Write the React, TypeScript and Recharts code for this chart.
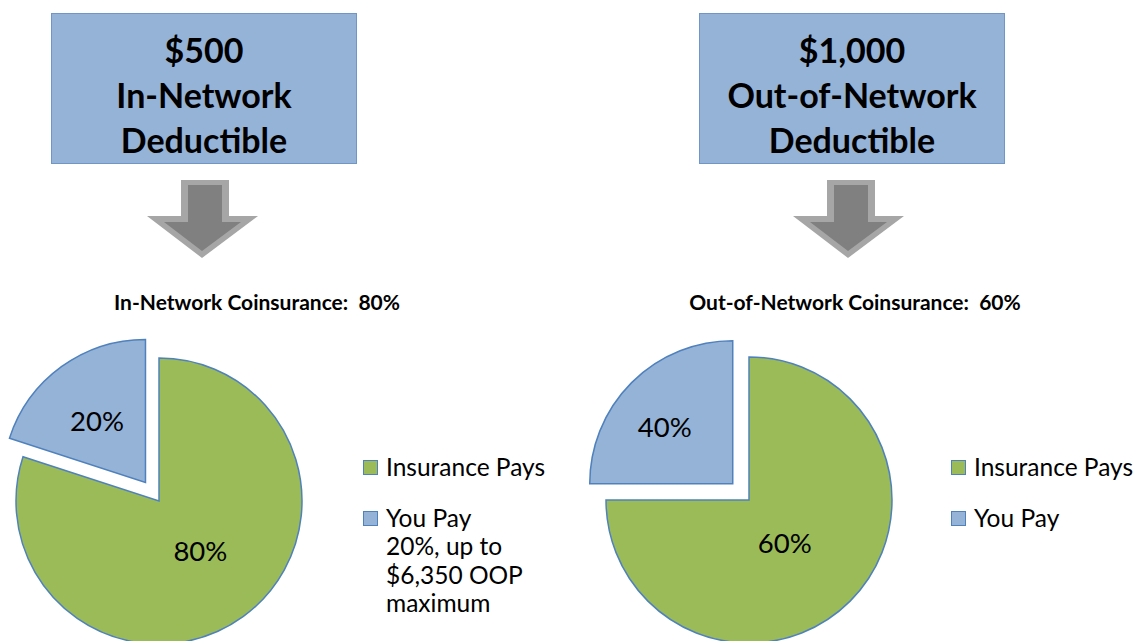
import React from "react";
import { PieChart, Pie, Cell, Legend, Sector } from "recharts";

// ---- data ----
const categoriesIn = ["Insurance Pays", "You Pay\n20%, up to\n$6,350 OOP\nmaximum"];
const valuesIn = [80, 20];
const labelsIn = ["80%", "20%"];
const explodeIn = [false, true];

const categoriesOut = ["Insurance Pays", "You Pay"];
const valuesOut = [75, 25];
const labelsOut = ["60%", "40%"];
const explodeOut = [false, true];

const boxLinesIn = ["$500", "In-Network", "Deductible"];
const boxLinesOut = ["$1,000", "Out-of-Network", "Deductible"];
const chartTitles = ["In-Network Coinsurance:  80%", "Out-of-Network Coinsurance:  60%"];

const sliceColors = ["#9bbb59", "#95b3d7"];
const STROKE = "#4f81bd";
const FONT = "Lato, 'Open Sans', sans-serif";
const RAD = Math.PI / 180;
const EXPLODE = 23;

// label placement (style): radius fraction and angle adjustment per slice
const labelPlaceIn = [{ frac: 0.45, adj: 4 }, { frac: 0.55, adj: 2 }];
const labelPlaceOut = [{ frac: 0.39, adj: -5 }, { frac: 0.62, adj: 5 }];

function buildData(cats: string[], vals: number[], labels: string[], explode: boolean[]) {
  return cats.map((name, i) => ({ name, value: vals[i], label: labels[i], explode: explode[i] }));
}

const dataIn = buildData(categoriesIn, valuesIn, labelsIn, explodeIn);
const dataOut = buildData(categoriesOut, valuesOut, labelsOut, explodeOut);

function shiftFor(props: any) {
  const ex = props.explode ?? props.payload?.explode;
  const off = ex ? EXPLODE : 0;
  return {
    dx: off * Math.cos(-props.midAngle * RAD),
    dy: off * Math.sin(-props.midAngle * RAD),
  };
}

const ExplodedShape = (props: any) => {
  const { dx, dy } = shiftFor(props);
  return <Sector {...props} cx={props.cx + dx} cy={props.cy + dy} />;
};

function makeLabel(place: { frac: number; adj: number }[]) {
  return (props: any) => {
    const { cx, cy, midAngle, outerRadius, index } = props;
    const { dx, dy } = shiftFor(props);
    const p = place[index];
    const a = (midAngle + p.adj) * RAD;
    const r = outerRadius * p.frac;
    const x = cx + dx + r * Math.cos(-a);
    const y = cy + dy + r * Math.sin(-a);
    const text = props.label ?? props.payload?.label;
    return (
      <text x={x} y={y} textAnchor="middle" dominantBaseline="central"
        fontFamily={FONT} fontSize={27.5} fill="#000">
        {text}
      </text>
    );
  };
}

const LegendContent = (props: any) => {
  const payload = props.payload || [];
  return (
    <div style={{ fontFamily: FONT, fontSize: 24.5, color: "#000" }}>
      {payload.map((p: any, i: number) => (
        <div key={i} style={{ display: "flex", alignItems: "flex-start", marginBottom: 22 }}>
          <span style={{
            display: "inline-block", width: 15, height: 15, boxSizing: "border-box",
            background: p.color, border: `1.5px solid ${STROKE}`, marginTop: 7, marginRight: 8,
            flex: "none",
          }} />
          <div>
            {String(p.value).split("\n").map((line, j) => (
              <div key={j} style={{ lineHeight: "28.5px", whiteSpace: "pre" }}>{line}</div>
            ))}
          </div>
        </div>
      ))}
    </div>
  );
};

const Box = ({ left, lines }: { left: number; lines: string[] }) => (
  <div style={{
    position: "absolute", left, top: 13, width: 306, height: 151, boxSizing: "border-box",
    background: "#95b3d7", border: "1.5px solid #6f95c9", display: "flex", flexDirection: "column",
    justifyContent: "center", alignItems: "center", paddingTop: 12,
    fontFamily: FONT, fontWeight: 700, fontSize: 34, color: "#000",
  }}>
    {lines.map((l, i) => (
      <div key={i} style={{ lineHeight: "45px", whiteSpace: "pre" }}>{l}</div>
    ))}
  </div>
);

const Arrow = ({ dx }: { dx: number }) => (
  <g transform={`translate(${dx},0)`}>
    <polygon points="181,180 229,180 229,216 258,216 202,258 147,216 181,216" fill="#a6a6a6" />
    <polygon points="188,185 222,185 222,222 241,222 202,251 164,222 188,222" fill="#808080" />
  </g>
);

const Title = ({ cx, text }: { cx: number; text: string }) => (
  <div style={{
    position: "absolute", left: cx - 300, width: 600, top: 288, height: 28, lineHeight: "28px",
    textAlign: "center", whiteSpace: "pre", fontFamily: FONT, fontWeight: 700, fontSize: 21, color: "#000",
  }}>{text}</div>
);

function CoinsurancePie({ data, place, cx, cy, legendLeft }: any) {
  return (
    <PieChart width={570} height={641} margin={{ top: 0, right: 0, bottom: 0, left: 0 }}>
      <Pie
        data={data}
        dataKey="value"
        nameKey="name"
        cx={cx}
        cy={cy}
        outerRadius={143}
        startAngle={90}
        endAngle={-270}
        stroke={STROKE}
        strokeWidth={1.5}
        isAnimationActive={false}
        labelLine={false}
        label={makeLabel(place)}
        shape={ExplodedShape}
      >
        {data.map((_: any, i: number) => (
          <Cell key={i} fill={sliceColors[i]} stroke={STROKE} />
        ))}
      </Pie>
      <Legend
        content={<LegendContent />}
        wrapperStyle={{ position: "absolute", left: legendLeft, top: 453, width: 240 }}
      />
    </PieChart>
  );
}

export default function App() {
  return (
    <div style={{ position: "absolute", left: 0, top: 0, width: 1133, height: 641, background: "#fff", overflow: "hidden" }}>
      <Box left={51} lines={boxLinesIn} />
      <Box left={699} lines={boxLinesOut} />
      <svg width={1133} height={641} style={{ position: "absolute", left: 0, top: 0 }}>
        <Arrow dx={0} />
        <Arrow dx={646} />
      </svg>
      <Title cx={257} text={chartTitles[0]} />
      <Title cx={855} text={chartTitles[1]} />
      <div style={{ position: "absolute", left: 0, top: 0 }}>
        <CoinsurancePie data={dataIn} place={labelPlaceIn} cx={159} cy={501} legendLeft={363} />
      </div>
      <div style={{ position: "absolute", left: 580, top: 0 }}>
        <CoinsurancePie data={dataOut} place={labelPlaceOut} cx={169} cy={500} legendLeft={371} />
      </div>
    </div>
  );
}
